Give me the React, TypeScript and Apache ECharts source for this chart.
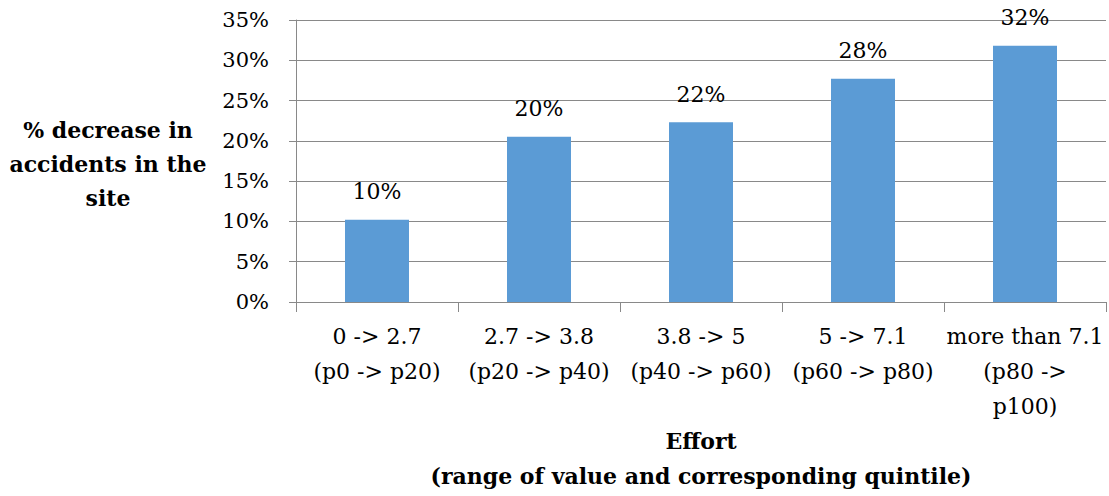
import React, { useEffect, useRef } from "react";
import * as echarts from "echarts";

const categories = [
  "0 -> 2.7\n(p0 -> p20)",
  "2.7 -> 3.8\n(p20 -> p40)",
  "3.8 -> 5\n(p40 -> p60)",
  "5 -> 7.1\n(p60 -> p80)",
  "more than 7.1\n(p80 ->\np100)",
];
const values = [10.2, 20.5, 22.3, 27.7, 31.8];
const valueLabels = ["10%", "20%", "22%", "28%", "32%"];
const yTicks = [0, 5, 10, 15, 20, 25, 30, 35];
const yAxisTitle = "% decrease in\naccidents in the\nsite";
const xAxisTitle = "Effort\n(range of value and corresponding quintile)";

const FONT = "DejaVu Serif";
const FS = 21;
const FSX = 22;
const FSB = 22;

export default function App() {
  const ref = useRef<HTMLDivElement>(null);
  useEffect(() => {
    if (!ref.current) return;
    const chart = echarts.init(ref.current, undefined, { renderer: "svg" });
    chart.setOption({
      animation: false,
      backgroundColor: "#ffffff",
      textStyle: { fontFamily: FONT },
      grid: {
        left: 296,
        right: 3,
        top: 20,
        bottom: 194,
        containLabel: false,
        outerBoundsMode: "none",
      },
      xAxis: {
        type: "category",
        data: categories,
        axisLine: { lineStyle: { color: "#898989", width: 1 } },
        axisTick: { show: true, length: 10, alignWithLabel: false, lineStyle: { color: "#898989" } },
        axisLabel: {
          color: "#000",
          fontFamily: FONT,
          fontSize: FSX,
          lineHeight: 35,
          margin: 17,
          interval: 0,
        },
      },
      yAxis: {
        type: "value",
        min: 0,
        max: 35,
        interval: 5,
        axisLine: { show: true, lineStyle: { color: "#898989", width: 1 } },
        axisTick: { show: true, length: 7, lineStyle: { color: "#898989" } },
        splitLine: { show: true, lineStyle: { color: "#898989", width: 1 } },
        axisLabel: {
          color: "#000",
          fontFamily: FONT,
          fontSize: FS,
          margin: 27,
          formatter: (v: number) => (yTicks.includes(v) ? v + "%" : ""),
        },
      },
      graphic: [
        {
          type: "text",
          x: 108,
          y: 164,
          style: {
            text: yAxisTitle,
            fontFamily: FONT,
            fontSize: FSB,
            fontWeight: "bold",
            lineHeight: 34,
            fill: "#000",
            align: "center",
            verticalAlign: "middle",
          },
        },
        {
          type: "text",
          x: 701,
          y: 458,
          style: {
            text: xAxisTitle,
            fontFamily: FONT,
            fontSize: FSB,
            fontWeight: "bold",
            lineHeight: 35,
            fill: "#000",
            align: "center",
            verticalAlign: "middle",
          },
        },
      ],
      series: [
        {
          type: "bar",
          data: values,
          barWidth: 64,
          itemStyle: { color: "#5B9BD5" },
          label: {
            show: true,
            position: "top",
            distance: 17,
            color: "#000",
            fontFamily: FONT,
            fontSize: FSX,
            formatter: (p: any) => valueLabels[p.dataIndex],
          },
        },
      ],
    });
    return () => chart.dispose();
  }, []);
  return (
    <div
      ref={ref}
      style={{ position: "fixed", left: 0, top: 0, width: 1109, height: 496 }}
    />
  );
}
